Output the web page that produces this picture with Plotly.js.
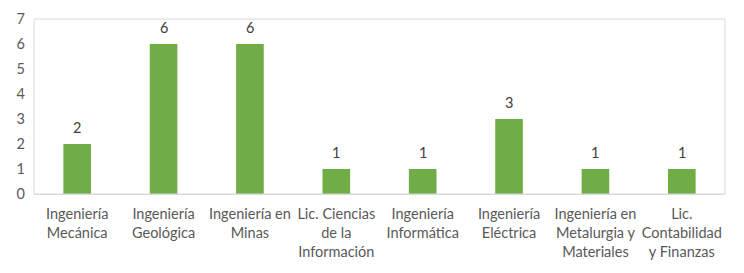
<!DOCTYPE html>
<html><head><meta charset="utf-8">
<script src="https://cdn.plot.ly/plotly-3.0.1.min.js"></script>
<style>body{margin:0;padding:0;background:#fff}#c{width:744px;height:273px}</style>
</head><body><div id="c"></div>
<script>
const categories = ["Ingeniería<br>Mecánica","Ingeniería<br>Geológica","Ingeniería en<br>Minas","Lic. Ciencias<br>de la<br>Información","Ingeniería<br>Informática","Ingeniería<br>Eléctrica","Ingeniería en<br>Metalurgia y<br>Materiales","Lic.<br>Contabilidad<br>y Finanzas"];
const values = [2, 6, 6, 1, 1, 3, 1, 1];
const yTicks = [0,1,2,3,4,5,6,7];

const font = "Lato, 'Open Sans', sans-serif";
Plotly.newPlot('c', [{
  type: 'bar',
  x: categories,
  y: values,
  marker: {color: '#70AD47'},
  hoverinfo: 'none'
}], {
  width: 744, height: 273,
  margin: {l: 34, r: 19, t: 19, b: 79},
  paper_bgcolor: '#fff', plot_bgcolor: '#fff',
  bargap: 0.68,
  showlegend: false,
  font: {family: font, size: 14.5, color: '#595959'},
  xaxis: {
    showline: true, linecolor: '#d9d9d9', linewidth: 1,
    showgrid: false, ticks: '', tickangle: 0, ticklabelstandoff: 7,
    tickfont: {family: font, size: 14.5, color: '#595959'}
  },
  yaxis: {
    range: [0, 7], tickvals: yTicks, showgrid: false, zeroline: false,
    showline: false, ticks: '', ticklabelstandoff: 8,
    tickfont: {family: font, size: 14.5, color: '#595959'}
  },
  annotations: categories.map((c, i) => ({
    x: c, y: values[i], xref: 'x', yref: 'y', text: String(values[i]),
    showarrow: false, yanchor: 'bottom', yshift: 6,
    font: {family: font, size: 14.5, color: '#404040'}
  })),
  shapes: [{type: 'rect', xref: 'paper', yref: 'paper', x0: 0, x1: 1, y0: 0, y1: 1,
    line: {color: '#d9d9d9', width: 1}}]
}, {staticPlot: true});
</script></body></html>
